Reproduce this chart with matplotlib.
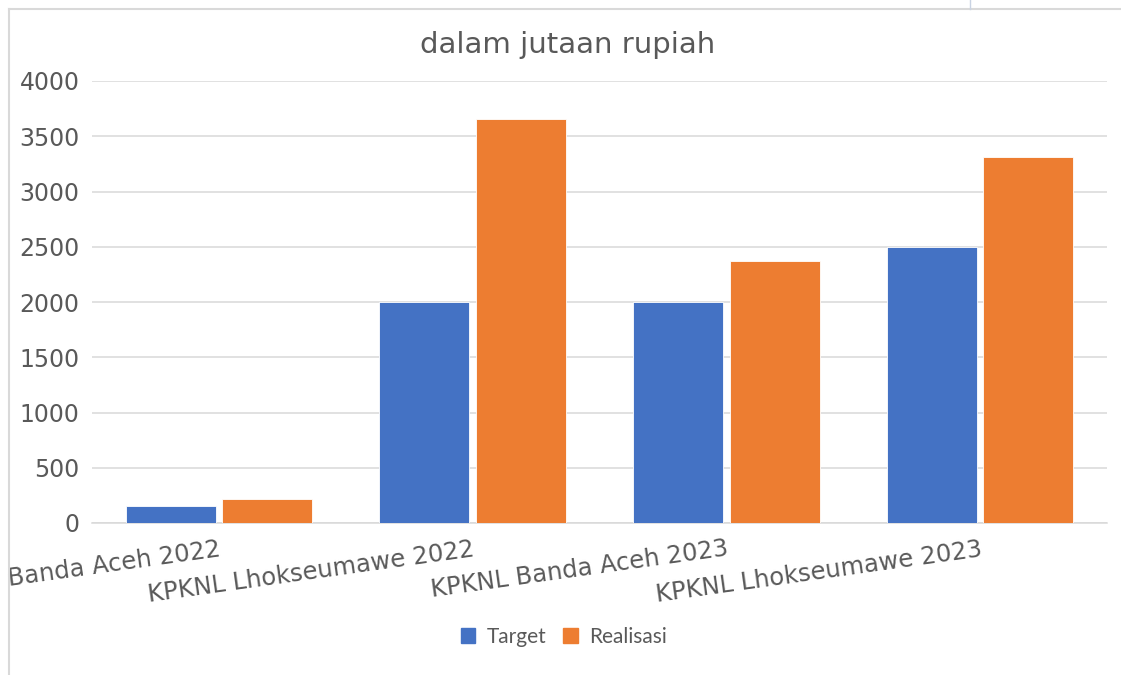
import matplotlib
matplotlib.use("Agg")
import matplotlib.pyplot as plt
import numpy as np
from matplotlib.lines import Line2D

categories = ["Banda Aceh 2022", "KPKNL Lhokseumawe 2022", "KPKNL Banda Aceh 2023", "KPKNL Lhokseumawe 2023"]
target = [150, 2000, 2000, 2500]
realisasi = [220, 3660, 2370, 3310]
series_names = ["Target", "Realisasi"]
yticks = [0, 500, 1000, 1500, 2000, 2500, 3000, 3500, 4000]

BLUE = "#4472C4"
ORANGE = "#ED7D31"
GRID = "#D9D9D9"
TXT = "#595959"

fig = plt.figure(figsize=(11.21, 6.75), dpi=100)
ax = fig.add_axes([92/1121, 1-523/675, (1107-92)/1121, (523-81)/675])

x = np.arange(len(categories))
w = 0.355
off = 0.19
ax.bar(x - off, target, width=w, color=BLUE, edgecolor="white", linewidth=0.6, label=series_names[0], zorder=3)
ax.bar(x + off, realisasi, width=w, color=ORANGE, edgecolor="white", linewidth=0.6, label=series_names[1], zorder=3)

ax.set_xlim(-0.5, len(categories) - 0.5)
ax.set_ylim(0, 4000)
ax.set_yticks(yticks)
ax.set_yticklabels([str(v) for v in yticks], fontsize=17, color=TXT, family="DejaVu Sans")
ax.yaxis.grid(True, color=GRID, linewidth=1.1, zorder=0)
ax.set_axisbelow(True)
ax.tick_params(axis="y", length=0, pad=9)
ax.tick_params(axis="x", length=0, pad=10)
ax.set_xticks(x)
ax.set_xticklabels(categories, fontsize=17.5, color=TXT, rotation=8, ha="right", va="top",
                   rotation_mode="anchor", family="DejaVu Sans")
for s in ["top", "right", "left"]:
    ax.spines[s].set_visible(False)
ax.spines["bottom"].set_color(GRID)
ax.spines["bottom"].set_linewidth(1.1)

fig.text(568/1121, 1-45/675, "dalam jutaan rupiah", ha="center", va="center",
         fontsize=21, color=TXT, family="DejaVu Sans")

handles = [plt.Rectangle((0, 0), 1, 1, color=BLUE), plt.Rectangle((0, 0), 1, 1, color=ORANGE)]
leg = fig.legend(handles, series_names, loc="center", bbox_to_anchor=(564/1121, 1-637/675), ncol=2,
                 frameon=False, handlelength=0.7, handleheight=0.7, handletextpad=0.55,
                 columnspacing=0.8, prop={"family": "Lato", "size": 15})
for t in leg.get_texts():
    t.set_color(TXT)

# chart frame lines
fig.add_artist(Line2D([9/1121, 9/1121], [0, 1-9/675], color=GRID, linewidth=1.5, transform=fig.transFigure))
fig.add_artist(Line2D([9/1121, 1], [1-9/675, 1-9/675], color=GRID, linewidth=1.5, transform=fig.transFigure))
fig.add_artist(Line2D([970/1121, 970/1121], [1-9/675, 1], color="#C9D3E3", linewidth=1.0, transform=fig.transFigure))

fig.savefig("out.png", dpi=100)
